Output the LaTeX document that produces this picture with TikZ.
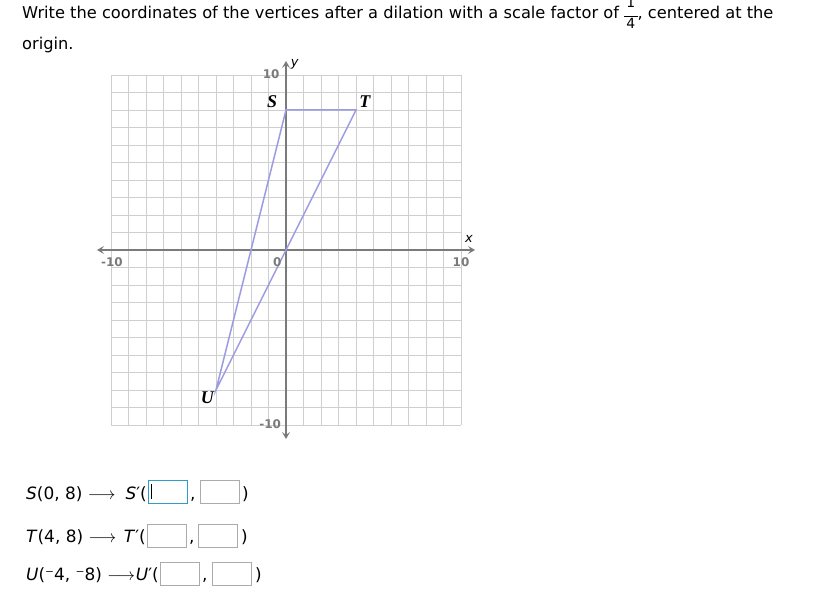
\documentclass[tikz,border=0pt]{standalone}
\usepackage{fontspec}
\setmainfont{DejaVu Sans}
\newfontfamily\vertexfont{Liberation Serif}
\usetikzlibrary{arrows.meta}
\definecolor{axisgray}{HTML}{7A7A7A}
\definecolor{gridgray}{HTML}{CFCFCF}
\definecolor{shapeblue}{HTML}{9C9CE2}
\definecolor{boxgray}{HTML}{ABABAB}
\definecolor{focusblue}{HTML}{2F9ACB}
\newcommand{\smallfrac}[2]{\raisebox{-10bp}{\fontsize{14}{14}\selectfont\begin{tabular}[b]{@{\,}c@{\,}}#1\\[4bp]\hline\rule{0pt}{13bp}#2\end{tabular}}}
\tikzset{
  gridline/.style={gridgray, line width=0.9bp},
  axisline/.style={axisgray, line width=2bp, {Stealth[length=7bp,width=8bp,inset=3bp]}-{Stealth[length=7bp,width=8bp,inset=3bp]}},
  side/.style={shapeblue, line width=1.5bp},
  ticklabel/.style={inner sep=0, text=axisgray, font=\bfseries\fontsize{12}{12}\selectfont},
  vertexlabel/.style={inner sep=0, font=\vertexfont\bfseries\itshape\fontsize{18}{18}\selectfont},
  axislabel/.style={inner sep=0, font=\itshape\fontsize{13}{13}\selectfont},
  rowtext/.style={inner sep=0, anchor=base west, font=\fontsize{16.3}{16}\selectfont},
  answertext/.style={inner sep=0, anchor=base west, font=\fontsize{17}{17}\selectfont},
  answerbox/.style={draw=boxgray, line width=1bp, minimum width=39bp, minimum height=23bp, inner sep=0, anchor=north west}
}
\begin{document}
\begin{tikzpicture}[x=1bp, y=-1bp]
  \useasboundingbox[fill=white] (0,0) rectangle (830,601);
  \node[rowtext] (title) at (22,19) {Write the coordinates of the vertices after a dilation with a scale factor of \smallfrac{1}{4}, centered at the};
  \node[rowtext] (title2) at (22,50) {origin.};
  % coordinate plane, one unit = 17.5px
  \begin{scope}[shift={(286,250)}, x=17.5bp, y=17.5bp]
    \draw[gridline, step=1] (-10,-10) grid (10,10);
    \coordinate (xl) at (-10.8,0);
    \coordinate (xr) at (10.8,0);
    \coordinate (yb) at (0,-10.8);
    \coordinate (yt) at (0,10.8);
    \draw[axisline] (xl) -- (xr);
    \draw[axisline] (yb) -- (yt);
    \coordinate (S) at (0,8);
    \coordinate (T) at (4,8);
    \coordinate (U) at (-4,-8);
    \draw[side] (S) -- (T) -- (U) -- cycle;
    \node[ticklabel] (top) at (-0.85,10.05) {10};
    \node[ticklabel] (bottom) at (-0.9,-9.95) {-10};
    \node[ticklabel] (left) at (-9.95,-0.7) {-10};
    \node[ticklabel] (right) at (10,-0.7) {10};
    \node[ticklabel] (zero) at (-0.5,-0.7) {0};
    \node[axislabel] (ylab) at (0.5,10.6) {y};
    \node[axislabel] (xlab) at (10.45,0.65) {x};
    \node[vertexlabel] (Slab) at (-0.8,8.45) {S};
    \node[vertexlabel] (Tlab) at (4.5,8.45) {T};
    \node[vertexlabel] (Ulab) at (-4.5,-8.45) {U};
  \end{scope}
  % answer rows
  \node[answertext] (row1) at (26,499) {\textit{S}(0, 8) $\longrightarrow$};
  \node[answerbox, draw=focusblue] (s1) at (148,480) {};
  \node[answertext, anchor=base east] (row1b) at (147,499) {\textit{S}′(};
  \draw (151,484) -- (151,499);
  \node[answertext] at (190,499) {,};
  \node[answerbox] (s2) at (200,480) {};
  \node[answertext] at (242,499) {)};
  \node[answertext] (row2) at (26,542) {\textit{T}(4, 8) $\longrightarrow$};
  \node[answerbox] (t1) at (147,524) {};
  \node[answertext, anchor=base east] (row2b) at (146,542) {\textit{T}′(};
  \node[answertext] at (189,542) {,};
  \node[answerbox] (t2) at (198,524) {};
  \node[answertext] at (241,542) {)};
  \node[answertext] (row3) at (26,580) {\textit{U}(⁻4, ⁻8) $\longrightarrow$};
  \node[answerbox] (u1) at (160,562) {};
  \node[answertext, anchor=base east] (row3b) at (159,580) {\textit{U}′(};
  \node[answertext] at (202,580) {,};
  \node[answerbox] (u2) at (212,562) {};
  \node[answertext] at (255,580) {)};
\end{tikzpicture}
\end{document}
